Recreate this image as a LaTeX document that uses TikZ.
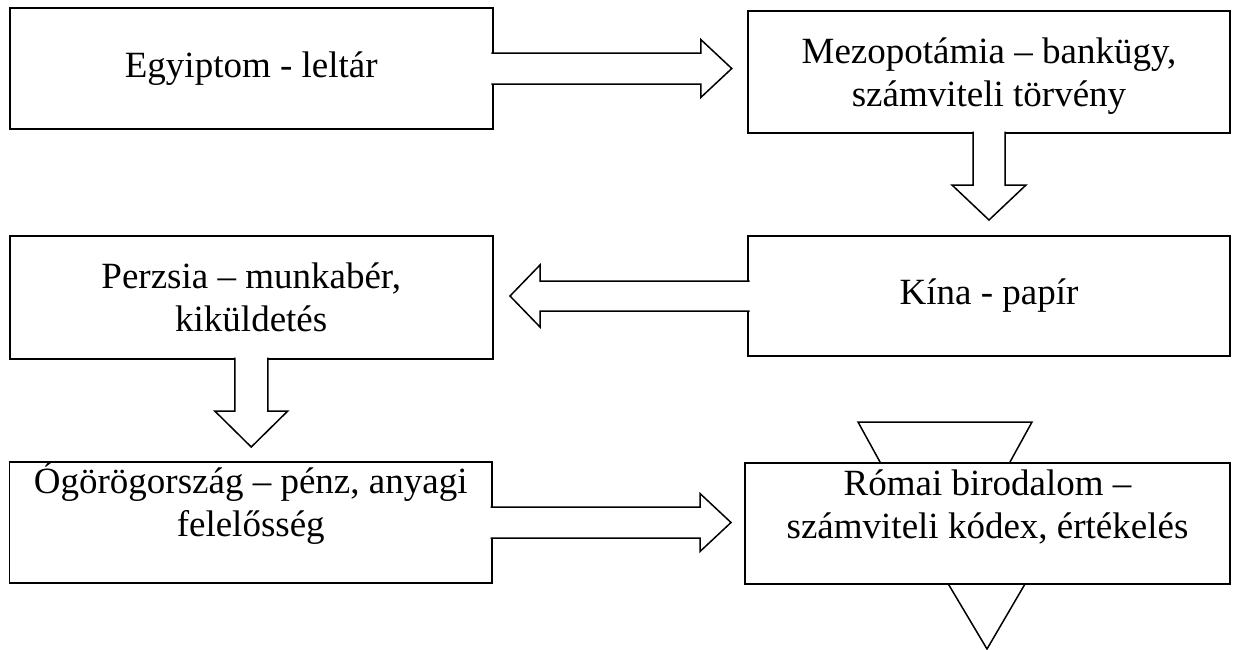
\documentclass[tikz,border=0pt]{standalone}
\usepackage{fontspec}
\setmainfont{Liberation Serif}
\usetikzlibrary{calc}

\begin{document}
\begin{tikzpicture}[x=1pt, y=-1pt,
   every node/.style={font=\fontsize{37}{43}\selectfont},
   every label/.style={align=center},
   box/.style={draw, fill=white, line width=1.5pt, align=center, inner sep=0pt,
               outer sep=0pt, minimum width=483pt, minimum height=121pt},
   blockarrow/.style={draw, fill=white, line width=1.5pt, line join=miter}]

\useasboundingbox (0,0) rectangle (1234,649);
\clip (0,0) rectangle (1234,649);

% triangles behind the Roman box
\draw[blockarrow] (858,422) -- (1032,422) -- (945,580) -- cycle;
\draw[blockarrow] (934,560) -- (1039,560) -- (987,649) -- cycle;

\node[box] (egyiptom) at (251.25,68.5) {Egyiptom - leltár};
\node[box, minimum width=482pt, minimum height=122pt,
      label={[yshift=-4pt]center:{Mezopotámia – bankügy,\\számviteli törvény}}]
    (mezo) at (989,72) {};
\node[box, minimum width=482pt, minimum height=120pt] (kina) at (989,296) {Kína - papír};
\node[box, minimum height=123pt] (perzsia) at (251.25,297.5)
    {Perzsia – munkabér,\\kiküldetés};
\node[box, minimum width=482.5pt,
      label={[yshift=19pt]center:{Ógörögország – pénz, anyagi\\felelősség}}]
    (gorog) at (250.75,522.5) {};
\node[box, line width=2pt, minimum width=485pt,
      label={[yshift=17pt]center:{Római birodalom –\\számviteli kódex, értékelés}}]
    (roma) at (987.5,523.5) {};

% block arrows
\draw[blockarrow] ($(egyiptom.east)+(-1.5,-15.5)$) -- ++(209.5,0) -- ++(0,-13.5)
    -- ++(31,29) -- ++(-31,29) -- ++(0,-13.5) -- ++(-209.5,0);
\draw[blockarrow] ($(mezo.south)+(-16,-1.5)$) -- ++(0,53.5) -- ++(-21,0)
    -- ++(37,35) -- ++(37,-35) -- ++(-21,0) -- ++(0,-53.5);
\draw[blockarrow] ($(kina.west)+(1.5,-15)$) -- ++(-209.5,0) -- ++(0,-16)
    -- ++(-30,31) -- ++(30,31) -- ++(0,-16) -- ++(209.5,0);
\draw[blockarrow] ($(perzsia.south)+(-16.5,-1.5)$) -- ++(0,53.5) -- ++(-20,0)
    -- ++(36.5,36) -- ++(36.5,-36) -- ++(-20,0) -- ++(0,-53.5);
\draw[blockarrow] ($(gorog.east)+(-1.5,-15.5)$) -- ++(209.5,0) -- ++(0,-13.5)
    -- ++(31,29) -- ++(-31,29) -- ++(0,-13.5) -- ++(-209.5,0);

\end{tikzpicture}
\end{document}
